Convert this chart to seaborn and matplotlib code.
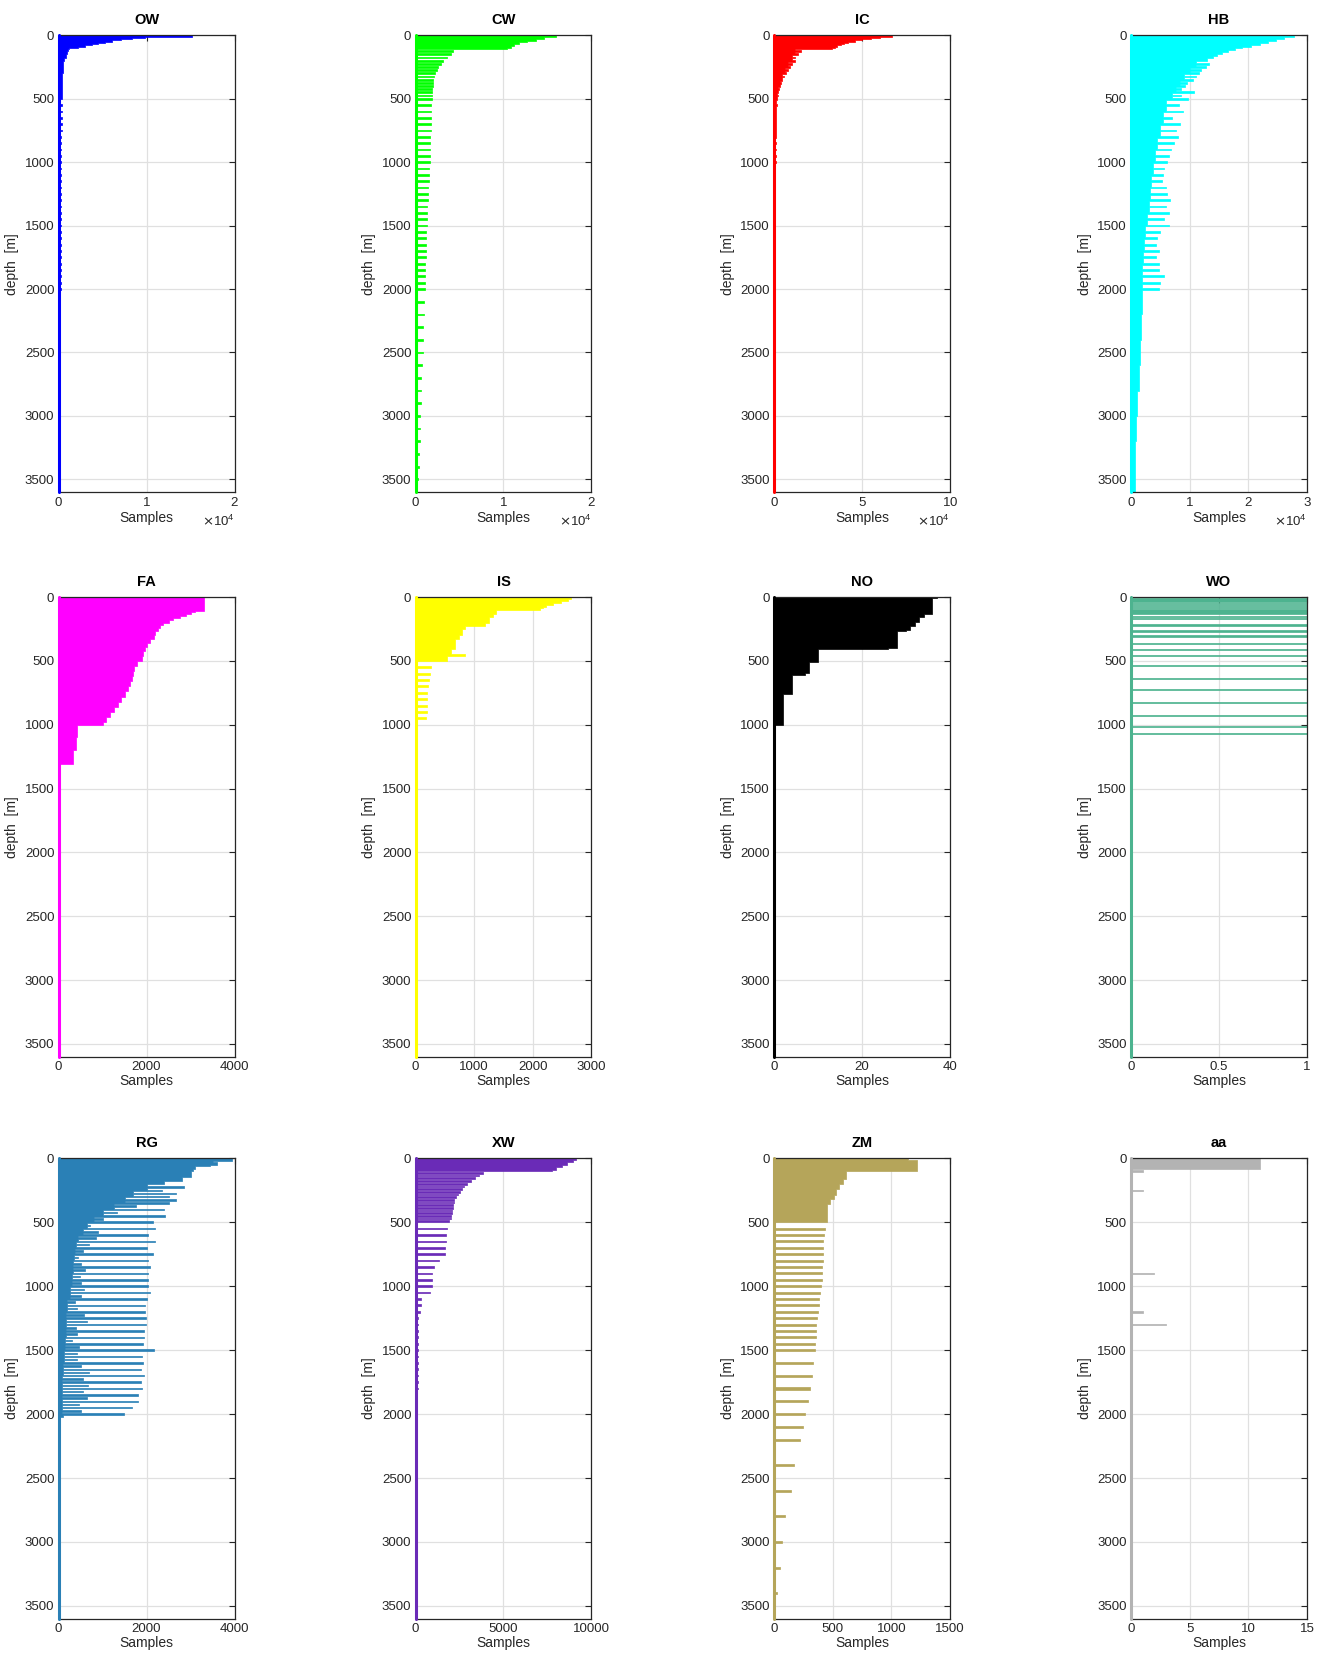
import numpy as np
import pandas as pd
import matplotlib
matplotlib.use('Agg')
import matplotlib.pyplot as plt
from matplotlib.ticker import ScalarFormatter, FormatStrFormatter
import seaborn as sns

sns.set_theme(style='whitegrid')
plt.rcParams['font.family'] = ['Liberation Sans', 'DejaVu Sans']

MAXD = 3600

# standard depth levels seen in the profiles
LEV_25 = [125, 150, 175, 200, 225, 250, 275, 300, 325, 350, 375, 400, 425, 450, 475, 500]
LEV_50 = [550, 600, 650, 700, 750, 800, 850, 900, 950, 1000, 1050, 1100, 1150, 1200, 1250,
          1300, 1350, 1400, 1450, 1500, 1550, 1600, 1650, 1700, 1750, 1800, 1850, 1900, 1950, 2000]
LEV_100 = [2100, 2200, 2300, 2400, 2500, 2600, 2700, 2800, 2900, 3000, 3100, 3200, 3300, 3400, 3500]

# ---- OW
OW_env_z = [0, 10, 20, 30, 40, 50, 60, 70, 80, 90, 100, 110, 125, 150, 175, 200, 250, 300, 400, 500]
OW_env_n = [15200, 9800, 8300, 7100, 6100, 5300, 4500, 3800, 3000, 2200, 1200, 1100, 950, 800,
            650, 560, 500, 450, 400]
OW_lev_z = LEV_50 + LEV_100
OW_lev_n = [380, 370, 360, 350, 350, 340, 330, 330, 320, 320, 310, 300, 300, 290, 290,
            280, 280, 270, 270, 265, 260, 255, 250, 250, 245, 240, 235, 235, 230, 230,
            210, 205, 200, 195, 190, 185, 180, 170, 165, 160, 150, 140, 130, 120, 110]

# ---- CW
CW_env_z = [0, 15, 30, 45, 55, 70, 85, 100, 110]
CW_env_n = [16000, 14600, 13700, 12700, 11800, 11200, 10800, 10400]
CW_lev_z = LEV_25 + LEV_50 + LEV_100
CW_lev_n = [4300, 4000, 3550, 3150, 2850, 2600, 2400, 2200, 2100, 2000, 1980, 1950, 1920, 1900, 1880, 1860,
            1800, 1780, 1760, 1740, 1720, 1700, 1690, 1680, 1660, 1640, 1560, 1520, 1480, 1440, 1400,
            1370, 1340, 1310, 1280, 1250, 1220, 1200, 1180, 1160, 1140, 1120, 1100, 1080, 1060, 1050,
            950, 910, 870, 830, 800, 720, 680, 640, 570, 530, 490, 455, 420, 380, 280]

# ---- IC
IC_env_z = [0, 10, 20, 30, 40, 50, 60, 70, 80, 90, 100, 110, 150, 200, 250, 300, 350, 400, 450, 500,
            600, 700, 800, 900, 1000]
IC_env_n = [67000, 60000, 55000, 50000, 46000, 42000, 40000, 38000, 36000, 34500, 33000,
            12000, 10000, 8000, 6200, 4600, 3300, 2400, 1800, 1300, 1100, 950, 800, 650]
IC_lev_z = LEV_25 + LEV_50
IC_lev_n = [15500, 13500, 12000, 11800, 10500, 9000, 7800, 6600, 5600, 4700, 3900, 3200, 2700, 2300, 2000, 1700,
            1500, 1400, 1350, 1300, 1250, 1200, 1150, 1100, 1050, 1000, 600, 550, 550, 500, 500,
            450, 450, 400, 400, 400, 350, 350, 300, 300, 300, 250, 250, 250, 200, 200]

# ---- HB
HB_env_z = [0, 15, 30, 45, 60, 75, 90, 100, 115, 130, 145, 160, 180, 200, 250, 300, 350, 400, 450, 500,
            600, 700, 800, 900, 1000, 1100, 1200, 1300, 1400, 1500, 1600, 1700, 1800, 1900, 2000,
            2200, 2400, 2600, 2800, 3000, 3200, 3400, 3600]
HB_env_n = [27800, 26000, 24800, 23300, 22000, 20500, 19000, 17800, 16600, 15500, 14700, 13900, 12900,
            11000, 10000, 9000, 8300, 7600, 7000,
            6000, 5400, 4900, 4500, 4100, 3700, 3400, 3200, 3000, 2800, 2400, 2200, 2000, 1900, 1800,
            1900, 1700, 1500, 1300, 1100, 900, 750, 600]
HB_lev_z = [225, 250, 275, 300, 325, 350, 375, 400, 425, 450, 475, 500] + LEV_50
HB_lev_n = [13300, 12800, 12000, 11600, 11000, 10500, 9500, 9200, 8600, 10800, 8500, 9800,
            8200, 8800, 7000, 8400, 7600, 8000, 7400, 6800, 6400, 6200, 5700, 5400, 5200, 5900, 6100,
            6700, 5900, 6400, 5700, 6400, 4900, 4500, 4200, 4800, 4300, 4700, 4700, 5700, 5000, 4800]

# ---- FA
FA_env_z = [0, 110, 120, 135, 150, 165, 180, 200, 220, 240, 270, 300, 330, 360, 390, 420, 460, 500,
            540, 580, 620, 660, 700, 740, 780, 820, 860, 900, 940, 980, 1000, 1100, 1200, 1310]
FA_env_n = [3310, 3100, 3000, 2900, 2750, 2600, 2500, 2380, 2300, 2250, 2200, 2160, 2080, 2000, 1960,
            1920, 1890, 1780, 1720, 1690, 1660, 1620, 1570, 1520, 1430, 1360, 1270, 1180, 1090, 1000,
            430, 400, 330]
FA_lev_z = []
FA_lev_n = []

# ---- IS
IS_env_z = [0, 15, 30, 45, 60, 75, 90, 105, 130, 160, 200, 225, 250, 300, 330, 410, 450, 465, 500]
IS_env_n = [2650, 2600, 2480, 2350, 2230, 2170, 2130, 1380, 1320, 1250, 1190, 850, 790, 740, 680,
            610, 850, 540]
IS_lev_z = [550, 600, 650, 700, 750, 800, 850, 900, 950]
IS_lev_n = [270, 240, 225, 210, 200, 195, 190, 190, 180]

# ---- NO
NO_env_z = [0, 10, 133, 154, 199, 230, 256, 269, 400, 408, 507, 596, 612, 756, 1000]
NO_env_n = [37, 36, 34, 33, 32, 31, 30, 28, 26, 10, 8, 7, 4, 2]
NO_lev_z = []
NO_lev_n = []

# ---- WO
WO_env_z = [0]
WO_env_n = []
WO_lev_z = [10, 24, 37, 52, 68, 86, 102, 118, 133, 152, 167, 220, 267, 306, 366, 411, 458,
            539, 638, 727, 829, 929, 1017, 1067]
WO_lev_n = [1, 1, 1, 1, 1, 1, 1, 1, 1, 1, 1, 1, 1, 1, 1, 1, 1, 1, 1, 1, 1, 1, 1, 1]

# ---- RG
RG_env_z = [0, 20, 30, 50, 60, 80, 100, 150, 175, 200, 250, 300, 350, 400, 450, 500, 550, 600, 650,
            700, 750, 800, 900, 1000, 1100, 1200, 1300, 1400, 1500, 1600, 1700, 1800, 1900, 2000, 2020]
RG_env_n = [3950, 3500, 3600, 3450, 3100, 3050, 3000, 2800, 2400, 2000, 1700, 1500, 1250, 1000, 800,
            650, 550, 450, 400, 380, 350, 330, 310, 250, 200, 180, 160, 150, 120, 100, 90, 80, 70, 100]
RG_lev_z = [225, 250, 275, 300, 325, 350, 375, 400, 425, 450, 475,
            500, 525, 550, 575, 600, 625, 650, 675, 700, 725, 750, 775, 800, 825, 850, 875, 900, 925,
            950, 975, 1000, 1025, 1050, 1075, 1100, 1125, 1150, 1175, 1200, 1225, 1250, 1275, 1300,
            1325, 1350, 1375, 1400, 1425, 1450, 1475, 1500, 1525, 1550, 1575, 1600, 1625, 1650, 1675,
            1700, 1725, 1750, 1775, 1800, 1825, 1850, 1875, 1900, 1925, 1950, 1975, 2000]
RG_lev_n = [2850, 2350, 2670, 2520, 2670, 2520, 1770, 2390, 1340, 2430, 1000,
            2140, 720, 2190, 900, 2040, 850, 2200, 700, 2015, 550, 2150, 450, 2030, 500, 2080, 600,
            2030, 480, 2045, 520, 2025, 580, 2080, 520, 2015, 380, 1955, 420, 1955, 580, 1980, 640,
            1985, 400, 1940, 430, 1950, 300, 1910, 460, 2175, 430, 1890, 420, 1920, 520, 1870, 700,
            1940, 560, 1865, 660, 1890, 560, 1800, 640, 1805, 470, 1675, 500, 1490]

# ---- XW
XW_env_z = [0, 13, 30, 50, 70, 90, 102]
XW_env_n = [9130, 8960, 8630, 8300, 7980, 7770]
XW_lev_z = [115, 136, 157, 178, 199, 220, 241, 262, 283, 304, 325, 346, 367, 388, 409, 430, 451, 472, 493,
            550, 600, 650, 700, 750, 800, 850, 900, 950, 1000, 1050, 1100, 1150, 1200, 1250, 1300,
            1350, 1400, 1450, 1500, 1550, 1600, 1650, 1700, 1750, 1800]
XW_lev_n = [3860, 3600, 3380, 3170, 2930, 2730, 2630, 2540, 2410, 2280, 2190, 2170, 2130, 2110, 2080, 2060,
            2040, 2020, 1910,
            1800, 1760, 1710, 1690, 1650, 1320, 1040, 950, 930, 910, 820, 330, 300, 240, 170, 150,
            150, 150, 150, 145, 140, 140, 140, 135, 135, 130]

# ---- ZM
ZM_env_z = [0, 10, 100, 160, 200, 240, 290, 320, 360, 500]
ZM_env_n = [1140, 1220, 610, 590, 555, 530, 510, 480, 450]
ZM_lev_z = LEV_50[:20] + [1600, 1700, 1800, 1900, 2000, 2100, 2200, 2400, 2600, 2800, 3000, 3200, 3400]
ZM_lev_n = [434, 424, 420, 417, 417, 414, 410, 408, 407, 398, 390, 385, 382, 378, 365, 362, 360, 355,
            352, 350, 330, 320, 303, 287, 264, 245, 218, 173, 147, 98, 72, 49, 29]

# ---- aa
aa_env_z = [0, 80]
aa_env_n = [11]
aa_lev_z = [100, 250, 900, 1200, 1300]
aa_lev_n = [1, 1, 2, 1, 3]

panels = [
    ('OW', '#0000ff', 20000, [0, 10000, 20000], True, OW_env_z, OW_env_n, OW_lev_z, OW_lev_n, 14),
    ('CW', '#00ff00', 20000, [0, 10000, 20000], True, CW_env_z, CW_env_n, CW_lev_z, CW_lev_n, 14),
    ('IC', '#ff0000', 100000, [0, 50000, 100000], True, IC_env_z, IC_env_n, IC_lev_z, IC_lev_n, 14),
    ('HB', '#00ffff', 30000, [0, 10000, 20000, 30000], True, HB_env_z, HB_env_n, HB_lev_z, HB_lev_n, 14),
    ('FA', '#ff00ff', 4000, [0, 2000, 4000], False, FA_env_z, FA_env_n, FA_lev_z, FA_lev_n, 14),
    ('IS', '#ffff00', 3000, [0, 1000, 2000, 3000], False, IS_env_z, IS_env_n, IS_lev_z, IS_lev_n, 16),
    ('NO', '#000000', 40, [0, 20, 40], False, NO_env_z, NO_env_n, NO_lev_z, NO_lev_n, 14),
    ('WO', '#4db38f', 1, [0, 0.5, 1], False, WO_env_z, WO_env_n, WO_lev_z, WO_lev_n, 9),
    ('RG', '#2a80b6', 4000, [0, 2000, 4000], False, RG_env_z, RG_env_n, RG_lev_z, RG_lev_n, 12),
    ('XW', '#6a2bb7', 10000, [0, 5000, 10000], False, XW_env_z, XW_env_n, XW_lev_z, XW_lev_n, 13),
    ('ZM', '#b5a55a', 1500, [0, 500, 1000, 1500], False, ZM_env_z, ZM_env_n, ZM_lev_z, ZM_lev_n, 16),
    ('aa', '#b3b3b3', 15, [0, 5, 10, 15], False, aa_env_z, aa_env_n, aa_lev_z, aa_lev_n, 12),
]


def depth_profile(env_z, env_n, lev_z, lev_n, h):
    # 1 m resolution profile, then collapse into runs of equal count
    z = np.zeros(MAXD)
    for a, b, n in zip(env_z[:-1], env_z[1:], env_n):
        z[a:b] = n
    for d, n in zip(lev_z, lev_n):
        lo = max(int(np.floor(d - h / 2)), 0)
        hi = lo + int(h)
        z[lo:hi] = np.maximum(z[lo:hi], n)
    cuts = np.flatnonzero(np.diff(z)) + 1
    edges = np.concatenate([[0], cuts, [MAXD]])
    return edges.astype(float), z[edges[:-1]]


fig = plt.figure(figsize=(13.3, 16.53), dpi=100)
W, H = 1330.0, 1653.0
col_left = [58.5, 415.5, 774, 1131]
row_top = [35.3, 597, 1158.3]
row_bot = [492, 1056.7, 1618.7]
ax_w = 176

ink = '#262626'
for i, (name, c, xmax, xt, sci, ez, en, lz, ln, h) in enumerate(panels):
    r, k = divmod(i, 4)
    ax = fig.add_axes([col_left[k] / W, 1 - row_bot[r] / H, ax_w / W, (row_bot[r] - row_top[r]) / H])
    edges, w = depth_profile(ez, en, lz, ln, h)
    df = pd.DataFrame({'depth': (edges[:-1] + edges[1:]) / 2.0, 'n': w})
    sns.histplot(data=df, y='depth', weights='n', bins=edges.tolist(), element='step', fill=True,
                 color=c, edgecolor=c, alpha=1, linewidth=0.5, ax=ax, zorder=2)
    ax.axvline(0, color=c, lw=2.2, zorder=4, clip_on=False)

    ax.set_ylim(MAXD, 0)
    ax.set_yticks([0, 500, 1000, 1500, 2000, 2500, 3000, 3500])
    ax.set_xlim(0, xmax)
    ax.set_xticks(xt)
    if sci:
        fmt = ScalarFormatter(useMathText=True)
        fmt.set_powerlimits((4, 4))
        ax.xaxis.set_major_formatter(fmt)
        ax.xaxis.get_offset_text().set_fontsize(9.5)
        ax.xaxis.get_offset_text().set_color(ink)
    else:
        ax.xaxis.set_major_formatter(FormatStrFormatter('%g'))

    ax.set_axisbelow(True)
    ax.grid(True, color='#e0e0e0', lw=0.9)
    for s in ax.spines.values():
        s.set_color(ink)
        s.set_linewidth(0.9)
        s.set_visible(True)
    ax.tick_params(direction='in', top=True, right=True, length=4, width=0.8,
                   color=ink, labelcolor=ink, labelsize=9.5, pad=3)
    ax.set_title(name, fontsize=10.5, fontweight='bold', color='black', pad=8)
    ax.set_ylabel('depth  [m]', fontsize=10, color=ink, labelpad=4)
    ax.set_xlabel('Samples', fontsize=10, color=ink, labelpad=1)

fig.savefig('out.png', dpi=100, facecolor='white')
